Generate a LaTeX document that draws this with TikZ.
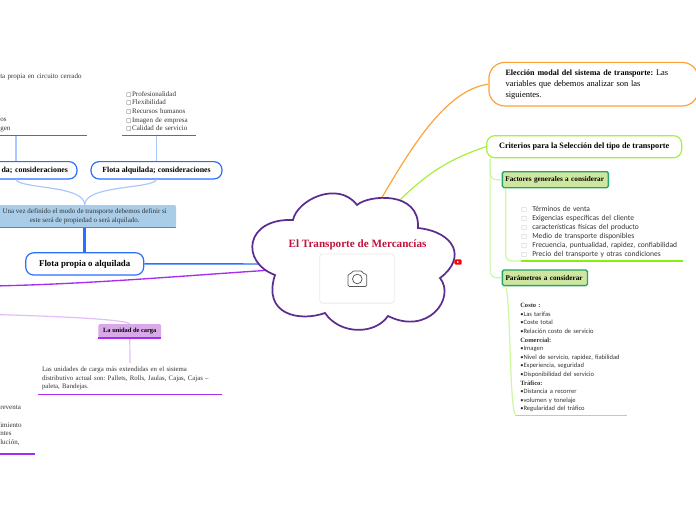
\documentclass[tikz,border=0pt]{standalone}
\usepackage{fontspec}
\setmainfont{Liberation Serif}
\newfontfamily\listfont{Carlito}
\newfontfamily\symbfont{DejaVu Sans}
\usepackage{xcolor}
\definecolor{cloudline}{HTML}{5B2D91}
\definecolor{titlered}{HTML}{C0143C}
\definecolor{blueline}{HTML}{2A70FF}
\definecolor{bluepale}{HTML}{A9C8FF}
\definecolor{noteblue}{HTML}{A9CDE8}
\definecolor{notedark}{HTML}{3A94C8}
\definecolor{violetline}{HTML}{A82BF0}
\definecolor{violetpale}{HTML}{E3BDF8}
\definecolor{unitfill}{HTML}{D8A8E8}
\definecolor{orangeline}{HTML}{FFA238}
\definecolor{limeline}{HTML}{A6F03C}
\definecolor{limepale}{HTML}{CDF7A0}
\definecolor{limedark}{HTML}{86EE10}
\definecolor{leaffill}{HTML}{CFE6A0}
\definecolor{leafline}{HTML}{22A565}
\definecolor{bodytext}{HTML}{333333}
\newcommand{\tofu}{{\symbfont\fontsize{4}{6.5}\selectfont □}}
\newcommand{\tofugrey}{{\symbfont\fontsize{4.5}{6.6}\selectfont\textcolor{black!30}{□}}}

\begin{document}
\frenchspacing
\begin{tikzpicture}[
    x=.75pt, y=-.75pt,
    pill/.style={rectangle, draw, rounded corners=6pt, fill=white, line width=.9pt, inner sep=0pt, font=\fontsize{5.9}{7}\selectfont\bfseries},
    leaf/.style={rectangle, draw=leafline, fill=leaffill, rounded corners=1.2pt, line width=1pt, inner sep=0pt, font=\fontsize{5.4}{6}\selectfont\bfseries},
    body/.style={rectangle, inner ysep=0pt, inner xsep=3pt, align=left, text=bodytext, font=\fontsize{5.25}{6.5}\selectfont},
    item/.style={body, font=\listfont\fontsize{5.65}{6.75}\selectfont},
    arrow/.style={line width=.9pt}
]
    \useasboundingbox (0,0) rectangle (696,520);
    \clip (0,0) rectangle (696,520);

    \coordinate (cloudw) at (262,264);
    \coordinate (cloudsw) at (272,270);
    \coordinate (cloudo) at (381,199);
    \coordinate (cloudg) at (399,201);
    \coordinate (outa) at (-6,286);
    \coordinate (outb) at (-6,314.5);

    % Left side, own or rented fleet
    \node[pill, draw=blueline, minimum width=91.5pt, minimum height=13pt, text width=78pt, align=right] (propia) at (16,170.3) {da; consideraciones};
    \node[pill, draw=blueline, minimum width=98.2pt, minimum height=13pt] (alquilada) at (156.5,170.3) {Flota alquilada; consideraciones};
    \node[body, anchor=south west, text width=64.5pt, inner xsep=0pt, inner ysep=2.6pt] (propialist) at (0,135.3) {ta propia en circuito cerrado\\\mbox{}\\\mbox{}\\\mbox{}\\\mbox{}\\os\\gen};
    \node[body, anchor=south west, text width=49pt, inner ysep=2.6pt] (alquilist) at (122,135.3) {\tofu\hspace{.6pt}Profesionalidad\\\tofu\hspace{.6pt}Flexibilidad\\\tofu\hspace{.6pt}Recursos humanos\\\tofu\hspace{.6pt}Imagen de empresa\\\tofu\hspace{.6pt}Calidad de servicio};
    \node[rectangle, fill=noteblue, rounded corners=1pt, minimum width=137pt, minimum height=16.7pt, inner sep=0pt, align=center, text=bodytext, font=\fontsize{5.25}{7}\selectfont] (note) at (84.7,216.2) {Una vez definido el modo de transporte debemos definir si\\este será de propiedad o será alquilado.};
    \node[pill, draw=blueline, minimum width=88.5pt, minimum height=16.7pt, font=\fontsize{6.65}{7}\selectfont\bfseries] (flota) at (84.7,263.9) {Flota propia o alquilada};

    \draw[bluepale, arrow] (propialist.south -| propia.north) -- (propia.north);
    \draw[bluepale, arrow] (alquilist.south -| alquilada.north) -- (alquilada.north);
    \draw[bluepale, arrow] (propia.south) .. controls (20,189) and (84.7,185) .. (note.north);
    \draw[bluepale, arrow] (alquilada.south) .. controls (153,189) and (84.7,185) .. (note.north);
    \draw[blueline, line width=1.1pt] (propialist.south west) -- (propialist.south east);
    \draw[blueline, line width=1.1pt] (alquilist.south west) -- (alquilist.south east);
    \draw[notedark, line width=1.1pt] (note.south west) -- (note.south east);
    \draw[blueline, line width=1.9pt] (note.south) -- (flota.north);
    \draw[blueline, line width=1.1pt] (flota.east) -- (cloudw);

    % Left side, load unit
    \node[rectangle, fill=unitfill, rounded corners=1pt, minimum width=47pt, minimum height=10.3pt, inner sep=0pt, font=\fontsize{4.8}{6}\selectfont\bfseries] (carga) at (129.8,331) {La unidad de carga};
    \node[body, minimum width=138pt, minimum height=23.2pt, text width=132pt, font=\fontsize{5.1}{6.5}\selectfont] (cargatxt) at (130,378.5) {Las unidades de carga más extendidas en el sistema\\distributivo actual son: Pallets, Rolls, Jaulas, Cajas, Cajas –\\paleta, Bandejas.};
    \node[body, anchor=south west, text width=25.5pt, inner xsep=0pt, inner ysep=.5pt] (resto) at (0,454) {reventa\\\mbox{}\\imiento\\ntes\\lución,\\\mbox{}};

    \draw[violetline, line width=1pt] (cloudsw) .. controls (180,276) and (90,284) .. (outa);
    \draw[violetpale, arrow] (carga.north) .. controls (125,320) and (80,317) .. (outb);
    \draw[violetpale, arrow] (carga.south) -- (cargatxt.north);
    \draw[violetline, line width=1.1pt] (carga.south west) -- (carga.south east);
    \draw[violetline, line width=1.1pt] (cargatxt.south west) -- (cargatxt.south east);
    \draw[violetline, line width=1.1pt] (resto.south west) -- (resto.south east);

    % Right side
    \node[pill, draw=orangeline, rounded corners=12pt, minimum width=157pt, minimum height=32.7pt, anchor=west, text width=132pt, align=left, font=\fontsize{6.35}{8.3}\selectfont] (eleccion) at (488.3,84.2) {{\fontsize{6.05}{8.3}\selectfont\bfseries Elección modal del sistema de transporte:} Las\\variables que debemos analizar son las\\siguientes.};
    \node[pill, draw=limeline, minimum width=146.2pt, minimum height=16.5pt, font=\fontsize{6.15}{7}\selectfont\bfseries] (criterios) at (584.2,146.7) {Criterios para la Selección del tipo de transporte};
    \node[leaf, minimum width=79.5pt, minimum height=12pt, anchor=west, text width=75pt, align=left] (factores) at (501.7,179.7) {Factores generales a considerar};
    \node[leaf, minimum width=63.8pt, minimum height=11.8pt, anchor=west, text width=59pt, align=left] (parametros) at (501.7,277.8) {Parámetros a considerar};
    \node[item, anchor=south west, text width=121pt, inner xsep=0pt, xshift=11.5pt, inner ysep=2.5pt] (factorlist) at (505.7,261) {\tofugrey\hspace{4pt}Términos de venta\\\tofugrey\hspace{4pt}Exigencias específicas del cliente\\\tofugrey\hspace{4pt}características físicas del producto\\\tofugrey\hspace{4pt}Medio de transporte disponibles\\\tofugrey\hspace{4pt}Frecuencia, puntualidad, rapidez, confiabilidad\\\tofugrey\hspace{4pt}Precio del transporte y otras condiciones};
    \node[item, anchor=south west, text width=77pt, inner ysep=2.5pt, font=\listfont\fontsize{4.9}{6.45}\selectfont] (paramlist) at (516,415.7) {{\rmfamily\bfseries Costo :}\\•Las tarifas\\•Coste total\\•Relación costo de servicio\\{\rmfamily\bfseries Comercial:}\\•Imagen\\•Nivel de servicio, rapidez, fiabilidad\\•Experiencia, seguridad\\•Disponibilidad del servicio\\{\rmfamily\bfseries Tráfico:}\\•Distancia a recorrer\\•volumen y tonelaje\\•Regularidad del tráfico};

    \draw[orangeline, arrow] (cloudo) .. controls (410,150) and (445,90) .. (eleccion.west);
    \draw[limeline, arrow] (cloudg) .. controls (430,170) and (455,157) .. (criterios.west);
    \draw[limepale, arrow, rounded corners=5pt] ([xshift=3pt]criterios.south west) |- (factores.west);
    \draw[limepale, arrow, rounded corners=5pt] ([xshift=3pt]criterios.south west) |- (parametros.west);
    \draw[limepale, arrow, rounded corners=4pt] ([xshift=3pt]factores.south west) |- (factorlist.south west);
    \draw[limedark, line width=1.1pt] (factorlist.south west) -- (factorlist.south east);
    \draw[limepale, arrow] ([xshift=3pt]parametros.south west) .. controls (511,300) and (509,410) .. (paramlist.south west);
    \draw[limeline, line width=1.1pt] (paramlist.south west) -- (paramlist.south east);

    % Cloud in the middle
    \draw[cloudline, line width=1.3pt, fill=white] (293,220)
        .. controls (297,200) and (338,180) .. (357,205)
        .. controls (368,195) and (420,190) .. (418,228)
        .. controls (455,232) and (467,258) .. (440,278)
        .. controls (456,298) and (428,336) .. (388,316)
        .. controls (375,335) and (340,335) .. (325,313)
        .. controls (300,322) and (262,315) .. (275,275)
        .. controls (240,262) and (245,218) .. cycle;
    \node[text=titlered, inner sep=0pt, font=\fontsize{8.35}{9}\selectfont\bfseries] (title) at (357.5,244.5) {El Transporte de Mercancías};
    \node[draw=black!8, rounded corners=2pt, minimum width=55.8pt, minimum height=36.8pt, line width=.6pt] (photo) at (357,278.6) {};
    \draw[black!65, line width=.55pt, rounded corners=1pt] (348,274) -- (351,274) -- (352.5,271) -- (362,271) -- (363.5,274) -- (366.7,274) -- (366.7,286.5) -- (348,286.5) -- cycle;
    \draw[black!65, line width=.55pt] (357.3,279) circle (4.8);
    \node[fill=red, rounded corners=1pt, minimum width=5.5pt, minimum height=4pt, inner sep=0pt] (play) at (458,262) {};
    \fill[white] (457.2,261) -- (459.2,262) -- (457.2,263) -- cycle;
\end{tikzpicture}
\end{document}
